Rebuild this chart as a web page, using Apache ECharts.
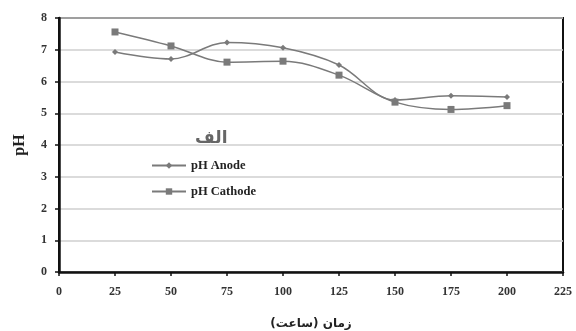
<!DOCTYPE html>
<html>
<head>
<meta charset="utf-8">
<script src="https://cdn.jsdelivr.net/npm/echarts@6/dist/echarts.min.js"></script>
<style>
  html, body { margin: 0; padding: 0; background: #fff; }
  #chart { width: 576px; height: 331px; }
</style>
</head>
<body>
<div id="chart"></div>
<script>
// Time in hours, and pH measured at each electrode
const hours = [25, 50, 75, 100, 125, 150, 175, 200];
const phAnode = [6.93, 6.71, 7.23, 7.06, 6.52, 5.42, 5.55, 5.51];
const phCathode = [7.56, 7.12, 6.61, 6.64, 6.2, 5.35, 5.12, 5.24];
const xTicks = [0, 25, 50, 75, 100, 125, 150, 175, 200, 225];
const yTicks = [0, 1, 2, 3, 4, 5, 6, 7, 8];

const serif = '"Liberation Serif", "DejaVu Serif", serif';
const lineGrey = '#7a7a7a';

const pairs = (xs, ys) => xs.map((x, i) => [x, ys[i]]);

const chart = echarts.init(document.getElementById('chart'));
chart.setOption({
  animation: false,
  backgroundColor: '#fff',
  grid: {
    left: 59, right: 13, top: 18, bottom: 59,
    outerBoundsMode: 'none',
    containLabel: false,
    show: true, borderColor: '#111', borderWidth: 2, backgroundColor: '#fff'
  },
  legend: {
    orient: 'vertical',
    left: 146, top: 154,
    itemGap: 13,
    itemWidth: 34, itemHeight: 8,
    textStyle: { fontFamily: serif, fontWeight: 'bold', fontSize: 12.5, color: '#222' },
    data: ['pH Anode', 'pH Cathode']
  },
  graphic: [
    {
      type: 'text', left: 195, top: 130,
      style: { text: 'الف', font: 'bold 17px "DejaVu Sans", sans-serif', fill: '#666' }
    }
  ],
  xAxis: {
    type: 'value',
    min: xTicks[0], max: xTicks[xTicks.length - 1], interval: 25,
    name: 'زمان (ساعت)',
    nameLocation: 'middle', nameGap: 46,
    nameTextStyle: { fontFamily: '"DejaVu Sans", sans-serif', fontWeight: 'bold', fontSize: 12, color: '#222' },
    axisLine: { lineStyle: { color: '#111', width: 2.5 } },
    axisTick: { show: true, inside: false, length: 4, lineStyle: { color: '#111', width: 1.5 } },
    axisLabel: { fontFamily: serif, fontWeight: 'bold', fontSize: 12, color: '#333', margin: 14 },
    splitLine: { show: false }
  },
  yAxis: {
    type: 'value',
    min: yTicks[0], max: yTicks[yTicks.length - 1], interval: 1,
    name: 'pH',
    nameLocation: 'middle', nameGap: 31, nameRotate: 90,
    nameTextStyle: { fontFamily: serif, fontWeight: 'bold', fontSize: 16, color: '#222' },
    axisLine: { show: true, lineStyle: { color: '#111', width: 2.5 } },
    axisTick: { show: true, inside: false, length: 4, lineStyle: { color: '#111', width: 1.5 } },
    axisLabel: { fontFamily: serif, fontWeight: 'bold', fontSize: 12, color: '#333', margin: 12 },
    splitLine: { show: true, lineStyle: { color: '#cfcfcf', width: 1.5 } }
  },
  series: [
    {
      name: 'pH Anode',
      type: 'line',
      smooth: 0.35,
      data: pairs(hours, phAnode),
      symbol: 'diamond', symbolSize: 6,
      lineStyle: { color: lineGrey, width: 1.5 },
      itemStyle: { color: lineGrey }
    },
    {
      name: 'pH Cathode',
      type: 'line',
      smooth: 0.35,
      data: pairs(hours, phCathode),
      symbol: 'rect', symbolSize: 7,
      lineStyle: { color: lineGrey, width: 1.5 },
      itemStyle: { color: lineGrey }
    }
  ]
});
</script>
</body>
</html>
